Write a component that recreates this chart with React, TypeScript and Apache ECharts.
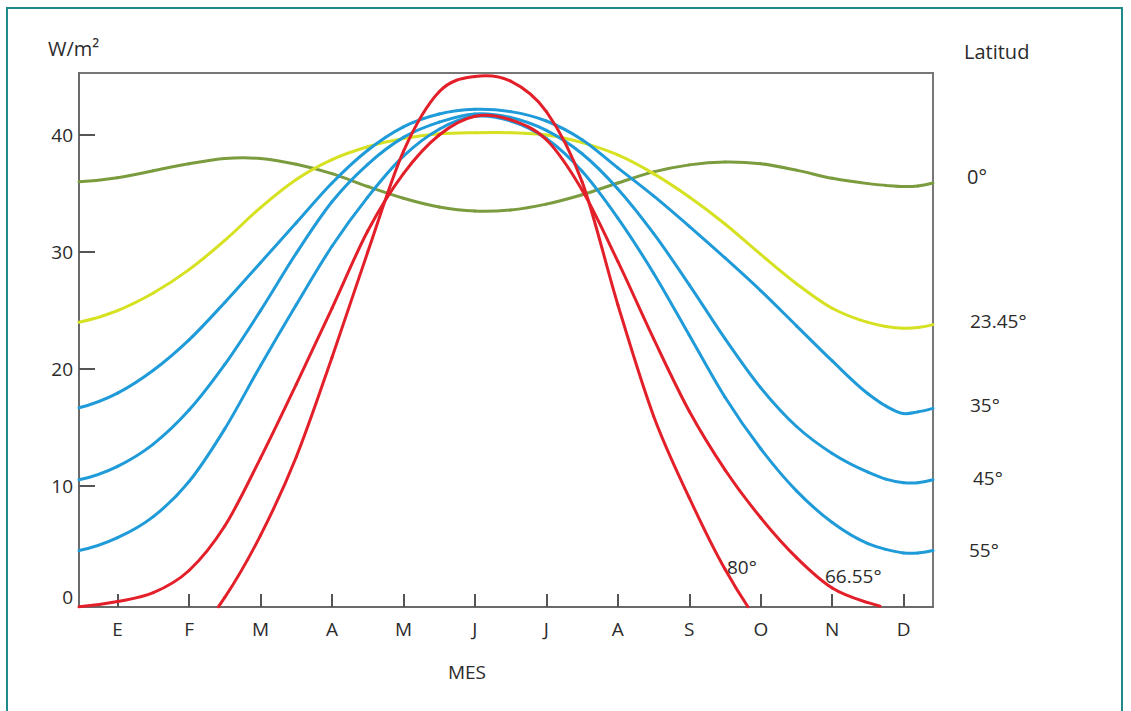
import React, { useEffect, useRef } from "react";
import * as echarts from "echarts";

// ---- data ----
const monthLabels = ["E", "F", "M", "A", "M", "J", "J", "A", "S", "O", "N", "D"];
const monthTicks = [0, 1, 2, 3, 4, 5, 6, 7, 8, 9, 10, 11];
const yTickLabels = [0, 10, 20, 30, 40];
const yTickMarks = [10, 20, 30, 40];

const xFull = [-0.54, 0, 0.5, 1, 1.5, 2, 2.5, 3, 3.5, 4, 4.5, 5, 5.5, 6, 6.5, 7, 7.5, 8, 8.5, 9, 9.5, 10, 10.5, 10.75, 11, 11.2, 11.41];
const lat0 = [36.0, 36.35, 36.95, 37.55, 38.0, 38.0, 37.5, 36.7, 35.6, 34.6, 33.85, 33.5, 33.6, 34.1, 34.9, 35.9, 36.85, 37.45, 37.7, 37.55, 37.0, 36.3, 35.85, 35.7, 35.6, 35.65, 35.9];
const lat23 = [24.0, 25.0, 26.5, 28.5, 31.0, 33.8, 36.2, 37.9, 39.0, 39.7, 40.1, 40.2, 40.2, 40.0, 39.35, 38.3, 36.7, 34.7, 32.4, 29.8, 27.3, 25.2, 24.0, 23.65, 23.5, 23.55, 23.8];
const lat35 = [16.7, 17.95, 19.9, 22.5, 25.7, 29.1, 32.5, 35.9, 38.7, 40.7, 41.8, 42.2, 42.0, 41.2, 39.6, 37.2, 34.8, 32.2, 29.5, 26.7, 23.7, 20.7, 17.9, 16.85, 16.2, 16.35, 16.65];
const lat45 = [10.55, 11.7, 13.6, 16.5, 20.4, 25.0, 29.9, 34.3, 37.5, 39.8, 41.1, 41.8, 41.5, 40.4, 38.4, 35.4, 31.6, 27.2, 22.6, 18.4, 15.1, 12.8, 11.2, 10.6, 10.3, 10.3, 10.55];
const lat55 = [4.5, 5.6, 7.4, 10.4, 14.9, 20.3, 25.5, 30.5, 34.7, 38.2, 40.5, 41.6, 41.2, 39.7, 36.9, 32.9, 28.2, 22.9, 17.6, 13.2, 9.6, 6.9, 5.1, 4.6, 4.3, 4.3, 4.5];

const x66 = [-0.54, 0, 0.5, 1, 1.5, 2, 2.5, 3, 3.5, 4, 4.5, 5, 5.5, 6, 6.5, 7, 7.5, 8, 8.5, 9, 9.5, 10, 10.5, 10.67];
const lat66 = [-0.3, 0.15, 0.9, 2.8, 6.6, 12.4, 18.7, 25.2, 31.8, 36.7, 40.0, 41.6, 41.3, 39.6, 35.3, 29.2, 22.6, 16.4, 11.4, 7.3, 3.9, 1.3, 0.05, -0.25];

const x80 = [1.41, 1.5, 2, 2.5, 3, 3.5, 4, 4.5, 5, 5.5, 6, 6.5, 7, 7.5, 8, 8.5, 8.82];
const lat80 = [-0.3, 0.5, 5.8, 12.5, 21.0, 30.0, 38.6, 43.7, 45.0, 44.6, 42.0, 36.0, 25.5, 16.0, 9.0, 2.9, -0.3];

const latNames = ["0°", "23.45°", "35°", "45°", "55°", "66.55°", "80°"];

const FONT = '"Open Sans", "Noto Sans", sans-serif';
const TEXT = "#2b2b2b";

// tangents (dy/dx) for a smooth cubic Hermite curve through the points
function tangents(xs: number[], ys: number[]) {
  const n = xs.length;
  const m: number[] = new Array(n);
  const d = (i: number) => (ys[i + 1] - ys[i]) / (xs[i + 1] - xs[i]);
  const h = (i: number) => xs[i + 1] - xs[i];
  for (let i = 0; i < n; i++) {
    if (i === 0) {
      m[i] = ((2 * h(0) + h(1)) * d(0) - h(0) * d(1)) / (h(0) + h(1));
    } else if (i === n - 1) {
      const a = n - 2, b = n - 3;
      m[i] = ((2 * h(a) + h(b)) * d(a) - h(a) * d(b)) / (h(a) + h(b));
    } else {
      const h0 = h(i - 1), h1 = h(i);
      m[i] = (h1 * d(i - 1) + h0 * d(i)) / (h0 + h1);
    }
  }
  return m;
}

export default function App() {
  const ref = useRef<HTMLDivElement>(null);

  useEffect(() => {
    document.body.style.margin = "0";
    const chart = echarts.init(ref.current!, null, { renderer: "svg" });

    const mk = (name: string, xs: number[], ys: number[], color: string) => {
      const m = tangents(xs, ys);
      return {
        name,
        type: "custom",
        coordinateSystem: "cartesian2d",
        silent: true,
        data: xs.map((x, i) => [x, ys[i]]),
        renderItem: (params: any, api: any) => {
          const i = params.dataIndex;
          if (i >= xs.length - 1) return null;
          const hh = xs[i + 1] - xs[i];
          const p0 = api.coord([xs[i], ys[i]]);
          const c1 = api.coord([xs[i] + hh / 3, ys[i] + (m[i] * hh) / 3]);
          const c2 = api.coord([xs[i + 1] - hh / 3, ys[i + 1] - (m[i + 1] * hh) / 3]);
          const p1 = api.coord([xs[i + 1], ys[i + 1]]);
          return {
            type: "bezierCurve",
            shape: {
              x1: p0[0], y1: p0[1],
              cpx1: c1[0], cpy1: c1[1],
              cpx2: c2[0], cpy2: c2[1],
              x2: p1[0], y2: p1[1],
            },
            style: { stroke: color, lineWidth: 3, fill: null, lineCap: "round" },
          };
        },
      };
    };

    const txt = (text: string, x: number, y: number, size: number, align = "left") => ({
      type: "text",
      x,
      y,
      silent: true,
      style: {
        text,
        fill: TEXT,
        fontSize: size,
        fontFamily: FONT,
        textAlign: align,
        textVerticalAlign: "middle",
      },
    });

    chart.setOption({
      animation: false,
      grid: {
        left: 79,
        top: 73,
        width: 854,
        height: 534,
        show: true,
        borderColor: "#777",
        borderWidth: 2,
        backgroundColor: "transparent",
      },
      xAxis: {
        type: "value",
        min: -0.54,
        max: 11.41,
        axisLine: { show: true, onZero: false, lineStyle: { color: "#6a6a6a", width: 2 } },
        axisTick: {
          show: true,
          inside: true,
          length: 13,
          customValues: monthTicks,
          lineStyle: { color: "#555", width: 2 },
        },
        axisLabel: {
          customValues: monthTicks,
          formatter: (v: number) => monthLabels[Math.round(v)] ?? "",
          margin: 12,
          fontSize: 19,
          color: TEXT,
          fontFamily: FONT,
        },
        splitLine: { show: false },
      },
      yAxis: {
        type: "value",
        min: -0.32,
        max: 45.3,
        axisLine: { show: true, onZero: false, lineStyle: { color: "#6a6a6a", width: 2 } },
        axisTick: {
          show: true,
          inside: true,
          length: 16,
          customValues: yTickMarks,
          lineStyle: { color: "#555", width: 2 },
        },
        axisLabel: {
          customValues: yTickLabels,
          margin: 6,
          fontSize: 19,
          color: TEXT,
          fontFamily: FONT,
          formatter: (v: number) => (v === 0 ? "{z|0}" : String(v)),
          rich: {
            z: { fontSize: 19, color: TEXT, fontFamily: FONT, padding: [0, 0, 12, 0] },
          },
        },
        splitLine: { show: false },
      },
      series: [
        mk("0°", xFull, lat0, "#7b9c3e"),
        mk("23.45°", xFull, lat23, "#d6e122"),
        mk("35°", xFull, lat35, "#1e9bd8"),
        mk("45°", xFull, lat45, "#1e9bd8"),
        mk("55°", xFull, lat55, "#1e9bd8"),
        mk("66.55°", x66, lat66, "#e3202a"),
        mk("80°", x80, lat80, "#e3202a"),
      ],
      graphic: [
        {
          type: "rect",
          silent: true,
          shape: { x: 7, y: 8, width: 1115, height: 730 },
          style: { fill: "none", stroke: "#1f8a8a", lineWidth: 2 },
        },
        txt("W/m²", 48, 48, 20),
        txt("Latitud", 964, 51, 20),
        txt("MES", 467, 672, 19, "center"),
        txt(latNames[0], 967, 176, 20),
        txt(latNames[1], 970, 321, 19),
        txt(latNames[2], 970, 405, 19),
        txt(latNames[3], 973, 478, 19),
        txt(latNames[4], 969, 550, 19),
        txt(latNames[5], 825, 576, 19),
        txt(latNames[6], 727, 567, 19),
      ],
    });
    return () => chart.dispose();
  }, []);

  return <div ref={ref} style={{ width: 1131, height: 711 }} />;
}
